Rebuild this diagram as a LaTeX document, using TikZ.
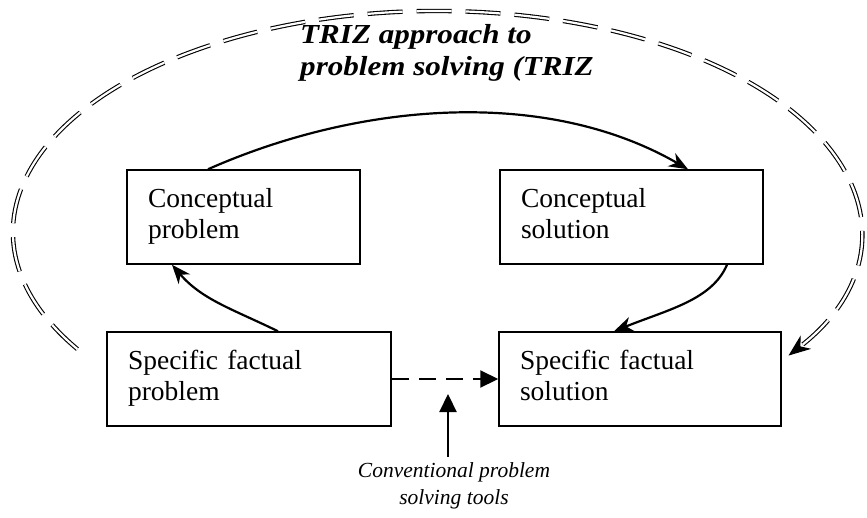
\documentclass[tikz,border=0pt]{standalone}
\usepackage{fontspec}
\setmainfont{Liberation Serif}
\usetikzlibrary{arrows.meta}

\tikzset{
  stagebox/.style={draw, line width=1.5pt, minimum height=94pt, inner ysep=0pt,
    inner xsep=21pt, align=left, font=\fontsize{27.5}{31}\selectfont,
    execute at begin node=\strut, execute at end node=\strut},
  flow/.style={line width=2.2pt, -{Stealth[length=19pt,width=15pt,inset=6pt]}},
  direct/.style={line width=2.2pt, dash pattern=on 17pt off 10pt,
    -{Triangle[length=18pt,width=17pt]}},
  push/.style={line width=2.2pt, -{Triangle[length=18pt,width=17pt]}},
  loopline/.style={line width=1.1pt, double, double distance=2.2pt,
    dash pattern=on 35pt off 14pt,
    -{Stealth[length=22pt,width=17pt,inset=7pt]}},
  titletext/.style={inner sep=0pt, anchor=base west, xscale=1.13,
    font=\fontsize{27.5}{30}\selectfont\bfseries\itshape},
  tooltext/.style={inner sep=0pt, anchor=base,
    font=\fontsize{21.5}{27}\selectfont\itshape}
}

\begin{document}
\begin{tikzpicture}[x=1pt, y=1pt]
  \useasboundingbox (0,0) rectangle (867,-517);

  % the four stages
  \node[stagebox, text width=191pt] (cp)  at (243.5,-217) {Conceptual\\problem};
  \node[stagebox, text width=221pt] (cs)  at (631.5,-217) {Conceptual\\solution};
  \node[stagebox, text width=242pt] (sfp) at (249,-379)   {Specific factual\\problem};
  \node[stagebox, text width=240pt] (sfs) at (640,-379)   {Specific factual\\solution};

  % title of the outer loop
  \node[titletext] (titleA) at (300,-43) {TRIZ approach to};
  \node[titletext] (titleB) at (300,-75) {problem solving (TRIZ};

  % caption below the direct route
  \node[tooltext] (toolsA) at (454,-477) {Conventional problem};
  \node[tooltext] (toolsB) at (454,-504) {solving tools};

  % outer TRIZ loop (double dashed)
  \coordinate (loopStart) at (77.4,-349.1);
  \draw[loopline] (loopStart)
    arc[start angle=212, end angle=-34, x radius=424, y radius=221];

  % abstraction route
  \draw[flow] ([xshift=29pt]sfp.north)
    .. controls +(-45,22) and +(30,-35) .. ([xshift=-71.5pt]cp.south);
  \draw[flow] ([xshift=-35.5pt]cp.north)
    .. controls +(149,66) and +(-144,83) .. ([xshift=56.5pt]cs.north);
  \draw[flow] ([xshift=95.5pt]cs.south)
    .. controls +(-15,-35) and +(55,22) .. ([xshift=-26pt]sfs.north);

  % conventional direct route
  \draw[direct] (sfp.east) -- (sfs.west);
  \coordinate (toolsFoot) at (448,-457);
  \coordinate (toolsTip) at (448,-394);
  \draw[push] (toolsFoot) -- (toolsTip);
\end{tikzpicture}
\end{document}
